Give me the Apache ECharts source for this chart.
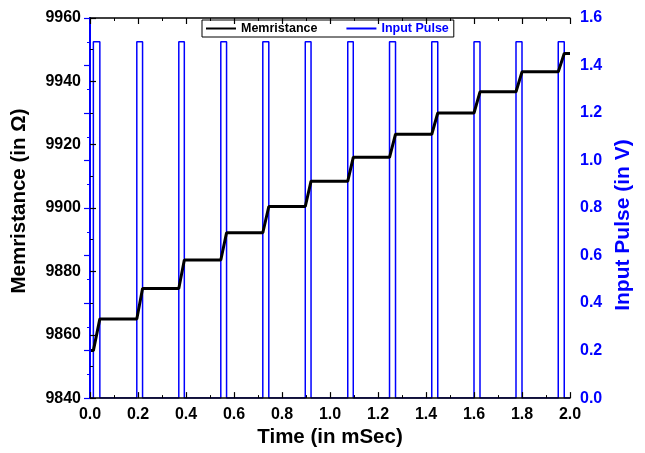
<!DOCTYPE html>
<html>
<head>
<meta charset="utf-8">
<script src="https://cdn.jsdelivr.net/npm/echarts@6/dist/echarts.min.js"></script>
<style>
html, body { margin: 0; padding: 0; background: #fff; }
#chart { width: 645px; height: 453px; }
</style>
</head>
<body>
<div id="chart"></div>
<script>
// 读图得到的数据
var pulseStart = [0.014, 0.195, 0.370, 0.545, 0.720, 0.897, 1.074, 1.248, 1.424, 1.600, 1.775, 1.951];
var pulseEnd   = [0.041, 0.219, 0.393, 0.569, 0.745, 0.921, 1.097, 1.273, 1.449, 1.625, 1.800, 1.976];
var pulseAmp = [1.5];
var levels = [9855, 9865, 9874.6, 9883.6, 9892.2, 9900.5, 9908.5, 9916, 9923.3, 9930, 9936.7, 9943, 9948.8];
var timeRange = [0, 2.0];

var BLUE = '#0000ff';
var FONT = '"Liberation Sans", Arial, sans-serif';

// 方波输入
var pulseData = [[timeRange[0], 0]];
for (var i = 0; i < pulseStart.length; i++) {
    pulseData.push([pulseStart[i], 0]);
    pulseData.push([pulseStart[i], pulseAmp[0]]);
    pulseData.push([pulseEnd[i], pulseAmp[0]]);
    pulseData.push([pulseEnd[i], 0]);
}
pulseData.push([timeRange[1], 0]);

// 阻值台阶，脉冲期间上升
var memData = [[timeRange[0], levels[0]]];
for (var j = 0; j < pulseStart.length; j++) {
    memData.push([pulseStart[j], levels[j]]);
    memData.push([pulseEnd[j], levels[j + 1]]);
}
memData.push([timeRange[1], levels[levels.length - 1]]);

var myChart = echarts.init(document.getElementById('chart'));
var option = {
    backgroundColor: '#fff',
    animation: false,
    textStyle: { fontFamily: FONT },
    grid: { left: 90, right: 75, top: 18, bottom: 49 },
    legend: {
        left: 202,
        top: 20,
        padding: [2, 5, 2, 3],
        itemWidth: 30,
        itemHeight: 12,
        itemGap: 28,
        borderColor: '#000',
        borderWidth: 1,
        borderRadius: 0,
        itemStyle: { opacity: 0 },
        textStyle: { fontFamily: FONT, fontWeight: 'bold', fontSize: 12.5 },
        data: [
            { name: 'Memristance', textStyle: { color: '#000' } },
            { name: 'Input Pulse', textStyle: { color: BLUE } }
        ]
    },
    xAxis: [
        {
            type: 'value',
            min: timeRange[0],
            max: timeRange[1],
            interval: 0.2,
            z: 10,
            name: 'Time (in mSec)',
            nameLocation: 'middle',
            nameGap: 26,
            nameTextStyle: { fontFamily: FONT, fontWeight: 'bold', fontSize: 20.5, color: '#000' },
            axisLine: { lineStyle: { color: '#000', width: 1.5 } },
            axisTick: { inside: true, length: 6, lineStyle: { color: '#000', width: 1.2 } },
            minorTick: { show: true, splitNumber: 2, length: 3, lineStyle: { color: '#000', width: 1 } },
            axisLabel: {
                margin: 8,
                fontFamily: FONT, fontWeight: 'bold', fontSize: 16, color: '#000',
                formatter: function (v) { return v.toFixed(1); }
            },
            splitLine: { show: false }
        },
        {
            type: 'value',
            position: 'top',
            min: timeRange[0],
            max: timeRange[1],
            interval: 0.2,
            z: 10,
            axisLine: { show: true, lineStyle: { color: '#000', width: 1.5 } },
            axisTick: { inside: true, length: 6, lineStyle: { color: '#000', width: 1.2 } },
            minorTick: { show: true, splitNumber: 2, length: 3, lineStyle: { color: '#000', width: 1 } },
            axisLabel: { show: false },
            splitLine: { show: false }
        }
    ],
    yAxis: [
        {
            type: 'value',
            position: 'left',
            min: 9840,
            max: 9960,
            interval: 20,
            z: 10,
            name: 'Memristance (in Ω)',
            nameLocation: 'middle',
            nameGap: 60,
            nameTextStyle: {
                fontFamily: FONT, fontWeight: 'bold', fontSize: 20.5, color: '#000',
                padding: [0, 0, 0, 14]
            },
            axisLine: { show: true, lineStyle: { color: '#000', width: 1.5 } },
            axisTick: { inside: true, length: 6, lineStyle: { color: '#000', width: 1.2 } },
            minorTick: { show: true, splitNumber: 2, length: 3, lineStyle: { color: '#000', width: 1 } },
            axisLabel: {
                margin: 9, fontFamily: FONT, fontWeight: 'bold', fontSize: 16, color: '#000',
                formatter: function (v) { return String(v); }
            },
            splitLine: { show: false }
        },
        {
            type: 'value',
            position: 'right',
            min: 0,
            max: 1.6,
            interval: 0.2,
            z: 10,
            name: 'Input Pulse (in V)',
            nameLocation: 'middle',
            nameGap: 43,
            nameTextStyle: {
                fontFamily: FONT, fontWeight: 'bold', fontSize: 21, color: BLUE,
                padding: [0, 34, 0, 0]
            },
            axisLine: { show: true, lineStyle: { color: BLUE, width: 2 } },
            axisTick: { inside: true, length: 6, lineStyle: { color: BLUE, width: 1.2 } },
            minorTick: { show: true, splitNumber: 2, length: 3, lineStyle: { color: BLUE, width: 1 } },
            axisLabel: {
                margin: 10,
                fontFamily: FONT, fontWeight: 'bold', fontSize: 16, color: BLUE,
                formatter: function (v) { return v.toFixed(1); }
            },
            splitLine: { show: false }
        }
    ],
    series: [
        {
            name: 'Input Pulse',
            type: 'line',
            xAxisIndex: 0,
            yAxisIndex: 1,
            symbol: 'none',
            color: BLUE,
            lineStyle: { color: BLUE, width: 1.5 },
            data: pulseData
        },
        {
            name: 'Memristance',
            type: 'line',
            xAxisIndex: 0,
            yAxisIndex: 0,
            symbol: 'none',
            color: '#000',
            lineStyle: { color: '#000', width: 3 },
            data: memData
        }
    ]
};
myChart.setOption(option);
</script>
</body>
</html>
